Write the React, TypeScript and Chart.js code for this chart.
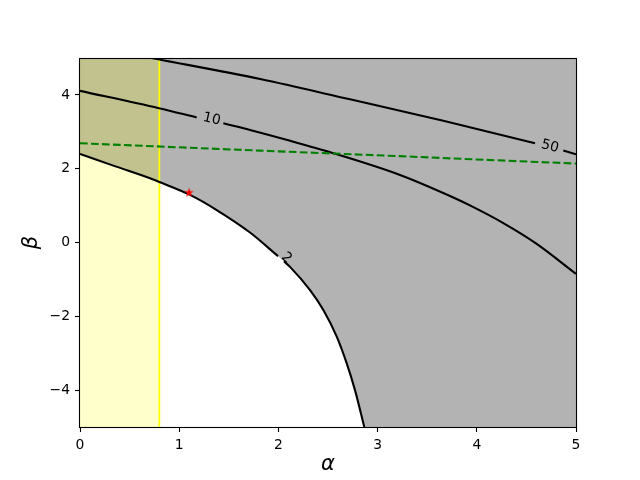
import React, { useEffect, useRef } from 'react';
import { Chart, registerables } from 'chart.js';

Chart.register(...registerables);

// Axis ranges and ticks
const alphaRange = [0, 5];
const betaRange = [-5, 5];
const alphaTicks = [0, 1, 2, 3, 4, 5];
const betaTicks = [-4, -2, 0, 2, 4];

// Contour level 2 (null marks the gap left for the label)
const contour2Alpha = [0, 0.35, 0.706, 0.8, 1.109, 1.378, 1.714, 1.996, 2.03, 2.056, 2.117, 2.319, 2.453, 2.588, 2.688, 2.772, 2.866];
const contour2Beta = [2.40, 2.07, 1.74, 1.64, 1.29, 0.88, 0.27, -0.37, null, -0.51, -0.66, -1.29, -1.83, -2.55, -3.27, -4.0, -5.0];

// Contour level 10
const contour10Alpha = [0, 0.796, 1.176, 1.31, 1.445, 1.714, 2.1, 2.553, 3.226, 3.73, 3.931, 4.267, 4.6, 5];
const contour10Beta = [4.11, 3.64, 3.39, null, 3.23, 3.05, 2.77, 2.42, 1.83, 1.26, 1.005, 0.526, -0.03, -0.85];

// Contour level 50
const contour50Alpha = [0.72, 1.815, 2.722, 3.662, 4.587, 4.73, 4.872, 5];
const contour50Beta = [5.0, 4.43, 3.88, 3.3, 2.69, null, 2.49, 2.39];

// Contour labels
const labelTexts = ['2', '10', '50'];
const labelAlpha = [2.08, 1.328, 4.738];
const labelBeta = [-0.42, 3.34, 2.6];

// Green dashed curve
const greenAlpha = [0, 1.81, 3.226, 3.73, 5];
const greenBeta = [2.69, 2.49, 2.34, 2.28, 2.14];

// Yellow span (alpha < 0.8)
const spanAlpha = [0, 0.8];

// Red star
const starAlpha = [1.1];
const starBeta = [1.35];

const FONT = 'DejaVu Sans';
const LW = 2.08;

const pts = (a: number[], b: (number | null)[]) => a.map((x, i) => ({ x, y: b[i] }));

const contours = [
  { alpha: contour2Alpha, beta: contour2Beta },
  { alpha: contour10Alpha, beta: contour10Beta },
  { alpha: contour50Alpha, beta: contour50Beta },
];

const overlayPlugin = {
  id: 'overlay',
  beforeDatasetsDraw(chart: any) {
    const { ctx, chartArea } = chart;
    const { left, top, right, bottom } = chartArea;
    ctx.save();
    ctx.fillStyle = 'rgb(179,179,179)';
    ctx.fillRect(left, top, right - left, bottom - top);
    ctx.restore();
  },
  afterDatasetsDraw(chart: any) {
    const { ctx, chartArea } = chart;
    const xs = chart.scales.x;
    const ys = chart.scales.y;
    contours.forEach((c, k) => {
      const gi = c.beta.indexOf(null);
      const x1 = xs.getPixelForValue(c.alpha[gi - 1]);
      const y1 = ys.getPixelForValue(c.beta[gi - 1] as number);
      const x2 = xs.getPixelForValue(c.alpha[gi + 1]);
      const y2 = ys.getPixelForValue(c.beta[gi + 1] as number);
      const ang = Math.atan2(y2 - y1, x2 - x1);
      const px = xs.getPixelForValue(labelAlpha[k]);
      const py = ys.getPixelForValue(labelBeta[k]);
      ctx.save();
      ctx.translate(px, py);
      ctx.rotate(ang);
      ctx.font = `13.9px "${FONT}"`;
      ctx.fillStyle = '#000';
      ctx.textAlign = 'center';
      ctx.textBaseline = 'middle';
      ctx.fillText(labelTexts[k], 0, 0);
      ctx.restore();
    });
    const { left, top, right, bottom } = chartArea;
    ctx.save();
    ctx.strokeStyle = '#000';
    ctx.lineWidth = 1.1;
    ctx.strokeRect(Math.round(left) - 0.5, Math.round(top) + 0.5, right - left + 1, bottom - top);
    ctx.restore();
  },
};

function makeStar(): HTMLCanvasElement {
  const c = document.createElement('canvas');
  c.width = 12;
  c.height = 12;
  const g = c.getContext('2d')!;
  const R = 5;
  const r = R * 0.382;
  g.beginPath();
  for (let i = 0; i < 10; i++) {
    const rad = i % 2 === 0 ? R : r;
    const a = -Math.PI / 2 + (i * Math.PI) / 5;
    const x = 6 + rad * Math.cos(a);
    const y = 6 + rad * Math.sin(a);
    if (i === 0) g.moveTo(x, y);
    else g.lineTo(x, y);
  }
  g.closePath();
  g.fillStyle = 'red';
  g.fill();
  return c;
}

const fmt = (v: number) => (v < 0 ? '\u2212' + Math.abs(v) : String(v));

export default function App() {
  const ref = useRef<HTMLCanvasElement>(null);

  useEffect(() => {
    if (!ref.current) return;
    const star = makeStar();
    const contourLine = (a: number[], b: (number | null)[]) => ({
      data: pts(a, b),
      borderColor: '#000',
      borderWidth: LW,
      pointRadius: 0,
      fill: false,
      spanGaps: false,
      cubicInterpolationMode: 'monotone',
      order: 5,
    });
    const chart = new Chart(ref.current, {
      type: 'line',
      data: {
        datasets: [
          {
            data: pts(contour2Alpha, contour2Beta).filter((p) => p.y !== null),
            borderWidth: 0,
            borderColor: 'rgba(0,0,0,0)',
            pointRadius: 0,
            fill: 'start',
            backgroundColor: '#ffffff',
            cubicInterpolationMode: 'monotone',
            order: 10,
          } as any,
          {
            data: [
              { x: spanAlpha[0], y: betaRange[1] },
              { x: spanAlpha[1], y: betaRange[1] },
            ],
            borderWidth: 0,
            borderColor: 'rgba(0,0,0,0)',
            pointRadius: 0,
            fill: 'start',
            backgroundColor: 'rgba(255,255,0,0.2)',
            order: 9,
          },
          {
            data: [
              { x: spanAlpha[1], y: betaRange[0] },
              { x: spanAlpha[1], y: betaRange[1] },
            ],
            borderWidth: LW * 0.8,
            borderColor: 'rgb(255,255,0)',
            pointRadius: 0,
            fill: false,
            order: 8,
          },
          contourLine(contour2Alpha, contour2Beta) as any,
          contourLine(contour10Alpha, contour10Beta) as any,
          contourLine(contour50Alpha, contour50Beta) as any,
          {
            data: pts(greenAlpha, greenBeta),
            borderColor: '#008000',
            borderWidth: LW,
            borderDash: [7.7, 3.3],
            pointRadius: 0,
            fill: false,
            order: 4,
          },
          {
            data: pts(starAlpha, starBeta),
            showLine: false,
            pointStyle: star as any,
            pointRadius: 6,
            order: 1,
          },
        ],
      },
      options: {
        animation: false,
        responsive: false,
        maintainAspectRatio: false,
        events: [],
        layout: { padding: { left: 0, top: 58, right: 64, bottom: 0 } },
        plugins: {
          legend: { display: false },
          tooltip: { enabled: false },
        },
        scales: {
          x: {
            type: 'linear',
            min: alphaRange[0],
            max: alphaRange[1],
            afterBuildTicks: (s: any) => {
              s.ticks = alphaTicks.map((v) => ({ value: v }));
            },
            afterFit: (s: any) => {
              s.height = 53;
            },
            grid: { drawOnChartArea: false, drawTicks: true, tickLength: 5, tickColor: '#000', tickWidth: 1.1 },
            border: { display: false },
            ticks: {
              color: '#000',
              font: { family: FONT, size: 13.9 },
              padding: 5,
              maxRotation: 0,
              autoSkip: false,
              callback: (v: any) => fmt(Number(v)),
            },
            title: {
              display: true,
              text: 'α',
              color: '#000',
              font: { family: FONT, size: 21, style: 'italic', lineHeight: 1.2 },
              padding: { top: 0, bottom: 2.4 },
            },
          },
          y: {
            type: 'linear',
            min: betaRange[0],
            max: betaRange[1],
            afterBuildTicks: (s: any) => {
              s.ticks = betaTicks.map((v) => ({ value: v }));
            },
            afterFit: (s: any) => {
              s.width = 80;
            },
            grid: { drawOnChartArea: false, drawTicks: true, tickLength: 5, tickColor: '#000', tickWidth: 1.1 },
            border: { display: false },
            ticks: {
              color: '#000',
              font: { family: FONT, size: 13.9 },
              padding: 5,
              autoSkip: false,
              callback: (v: any) => fmt(Number(v)),
            },
            title: {
              display: true,
              text: 'β',
              color: '#000',
              font: { family: FONT, size: 21, style: 'italic', lineHeight: 1.2 },
              padding: { top: 19, bottom: 0 },
            },
          },
        },
      } as any,
      plugins: [overlayPlugin],
    });
    return () => chart.destroy();
  }, []);

  return (
    <div style={{ position: 'absolute', left: 0, top: 0, width: 640, height: 480, background: '#fff' }}>
      <canvas ref={ref} width={640} height={480} style={{ display: 'block', width: 640, height: 480 }} />
    </div>
  );
}
